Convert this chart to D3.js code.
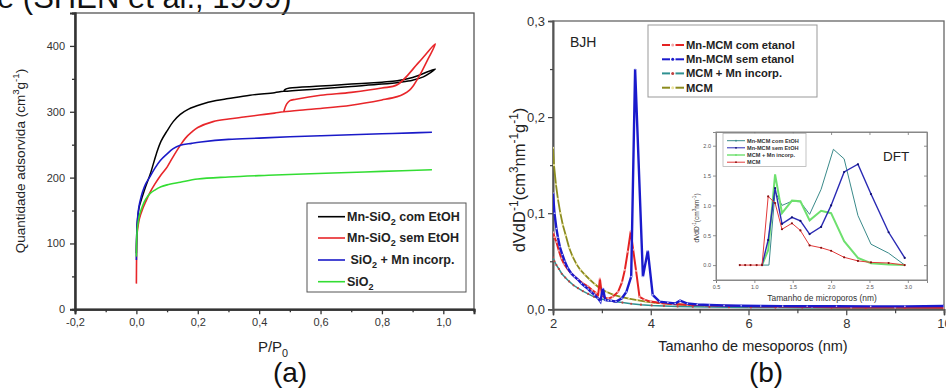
<!DOCTYPE html>
<html>
<head>
<meta charset="utf-8">
<script src="https://cdn.jsdelivr.net/npm/d3@7"></script>
<style>
  body { margin: 0; background: #fff; }
  svg { display: block; font-family: "Liberation Sans", Arial, sans-serif; }
</style>
</head>
<body>
<div id="chart"></div>
<script>
// ---------- (a) N2 isotherms ----------
const isoNames = ['Mn-SiO2 com EtOH', 'Mn-SiO2 sem EtOH', 'SiO2 + Mn incorp.', 'SiO2'];
const isoColors = ['#000000', '#e8262a', '#1a1ac8', '#33dd33'];

const comP = [0, 0.001, 0.003, 0.006, 0.01, 0.02, 0.03, 0.045, 0.065, 0.08, 0.1, 0.12, 0.143, 0.17, 0.21, 0.26, 0.3, 0.37, 0.45, 0.48, 0.6, 0.7, 0.8, 0.86, 0.9, 0.935, 0.974, 0.9, 0.85, 0.8, 0.7, 0.6, 0.5, 0.485, 0.48];
const comV = [85, 112, 132, 146, 157, 172, 186, 205, 236, 255, 271, 285, 296, 304, 311, 317, 320, 325, 329, 331, 335, 338.5, 342, 345, 348, 353, 365, 352, 347, 345, 342, 339, 336, 334, 331];

const semP = [0, 0.0005, 0.001, 0.003, 0.006, 0.01, 0.02, 0.03, 0.045, 0.06, 0.08, 0.1, 0.12, 0.143, 0.16, 0.18, 0.2, 0.25, 0.3, 0.35, 0.4, 0.45, 0.48, 0.55, 0.6, 0.7, 0.8, 0.85, 0.871, 0.89, 0.903, 0.925, 0.95, 0.974, 0.92, 0.85, 0.8, 0.7, 0.6, 0.52, 0.5, 0.49, 0.48];
const semV = [39, 75, 100, 118, 128, 138, 152, 163, 178, 190, 204, 216, 232, 249, 260, 269, 276, 285, 289, 292, 295, 298, 300, 303, 305, 310, 318, 323, 327, 333, 340, 357, 380, 403, 375, 341, 336, 329.5, 325, 319, 317, 312, 300];

const incP = [0, 0.001, 0.003, 0.006, 0.01, 0.013, 0.02, 0.03, 0.045, 0.06, 0.078, 0.1, 0.12, 0.143, 0.18, 0.21, 0.3, 0.4, 0.5, 0.6, 0.7, 0.8, 0.9, 0.963];
const incV = [75, 110, 132, 148, 160, 166, 178, 190, 202, 214, 226, 236, 244, 249, 252, 254, 258, 260, 262, 263.5, 265, 266.5, 268, 269];

const sioP = [0, 0.001, 0.003, 0.006, 0.01, 0.02, 0.03, 0.045, 0.06, 0.08, 0.1, 0.143, 0.2, 0.3, 0.43, 0.64, 0.8, 0.963];
const sioV = [80, 105, 122, 133, 143, 157, 167, 176, 181, 186, 189, 193, 198, 201, 203.5, 207, 209.5, 212];

const isoXTicks = [-0.2, 0, 0.2, 0.4, 0.6, 0.8, 1.0];
const isoYTicks = [0, 100, 200, 300, 400];

// ---------- (b) BJH mesopores ----------
const bjhNames = ['Mn-MCM com etanol', 'Mn-MCM sem etanol', 'MCM + Mn incorp.', 'MCM'];
const bjhColors = ['#e42222', '#1a1acc', '#2f9090', '#8c8c1e'];
const bjhMarks = ['#f4a8a8', '#c8c8f4', '#c04040', '#ece4a0'];

const comEtX = [2.0, 2.03, 2.07, 2.12, 2.17, 2.23, 2.31, 2.4, 2.51, 2.61, 2.71, 2.8, 2.88, 2.92, 2.96, 3.0, 3.06, 3.13, 3.22, 3.33, 3.41, 3.47, 3.53, 3.59, 3.64, 3.7, 3.77, 3.87, 4.0, 4.2, 4.45, 4.75, 5.1, 5.5, 6.0, 6.6, 7.3, 8.1, 9.0, 10.0];
const comEtY = [0.080, 0.075, 0.070, 0.061, 0.053, 0.047, 0.041, 0.036, 0.031, 0.027, 0.024, 0.020, 0.017, 0.013, 0.032, 0.015, 0.012, 0.011, 0.013, 0.018, 0.028, 0.041, 0.060, 0.081, 0.062, 0.040, 0.013, 0.010, 0.008, 0.0065, 0.0055, 0.0048, 0.0042, 0.0037, 0.0032, 0.0028, 0.0024, 0.002, 0.0018, 0.0015];

const semEtX = [2.0, 2.03, 2.07, 2.1, 2.14, 2.19, 2.24, 2.3, 2.37, 2.44, 2.51, 2.58, 2.65, 2.72, 2.78, 2.85, 2.92, 2.97, 3.02, 3.07, 3.13, 3.19, 3.29, 3.41, 3.5, 3.6, 3.68, 3.84, 3.94, 4.04, 4.18, 4.35, 4.5, 4.6, 4.75, 4.95, 5.2, 5.5, 5.85, 6.25, 6.7, 7.2, 7.8, 8.5, 9.2, 10.0];
const semEtY = [0.121, 0.100, 0.084, 0.075, 0.065, 0.057, 0.050, 0.043, 0.0375, 0.034, 0.031, 0.027, 0.024, 0.021, 0.018, 0.015, 0.0115, 0.008, 0.022, 0.0097, 0.009, 0.009, 0.008, 0.0115, 0.018, 0.034, 0.25, 0.034, 0.061, 0.015, 0.008, 0.007, 0.006, 0.009, 0.006, 0.005, 0.0045, 0.004, 0.0037, 0.0035, 0.0033, 0.0032, 0.0031, 0.003, 0.003, 0.0035];

const mcmIncX = [2.0, 2.03, 2.07, 2.12, 2.18, 2.25, 2.33, 2.42, 2.51, 2.61, 2.72, 2.84, 2.96, 3.1, 3.25, 3.42, 3.6, 3.8, 4.02, 4.27, 4.55, 4.86, 5.2, 5.6, 6.05, 6.55, 7.1, 7.7, 8.4, 9.2, 10.0];
const mcmIncY = [0.054, 0.050, 0.046, 0.042, 0.037, 0.033, 0.029, 0.025, 0.022, 0.019, 0.016, 0.013, 0.011, 0.0095, 0.0082, 0.007, 0.0058, 0.0048, 0.004, 0.0035, 0.003, 0.0027, 0.0024, 0.0022, 0.002, 0.0018, 0.0016, 0.0015, 0.0014, 0.0013, 0.0012];

const mcmX = [2.0, 2.02, 2.06, 2.1, 2.15, 2.2, 2.26, 2.33, 2.4, 2.48, 2.56, 2.65, 2.75, 2.86, 2.98, 3.1, 3.24, 3.39, 3.55, 3.72, 3.9, 4.1, 4.32, 4.56, 4.82, 5.1, 5.4, 5.75, 6.15, 6.6, 7.1, 7.7, 8.4, 9.2, 10.0];
const mcmY = [0.168, 0.150, 0.130, 0.115, 0.100, 0.088, 0.077, 0.064, 0.055, 0.047, 0.041, 0.036, 0.031, 0.026, 0.021, 0.018, 0.015, 0.013, 0.011, 0.0095, 0.008, 0.0068, 0.0058, 0.005, 0.0044, 0.0038, 0.0034, 0.003, 0.0026, 0.0023, 0.002, 0.0018, 0.0016, 0.0014, 0.0012];

const bjhXTicks = [2, 4, 6, 8, 10];
const bjhYTicks = [0, 0.1, 0.2, 0.3];

// ---------- inset DFT micropores ----------
const dftNames = ['Mn-MCM com EtOH', 'Mn-MCM sem EtOH', 'MCM + Mn incorp.', 'MCM'];
const dftColors = ['#3a8a8a', '#2a2ab4', '#6ee06e', '#e23a3a'];
const dftWidths = [1, 1.4, 2, 1];

const dftComX = [1.1, 1.19, 1.27, 1.36, 1.49, 1.6, 1.72, 1.87, 2.03, 2.17, 2.35, 2.52, 2.75, 2.96];
const dftComY = [0, 0, 1.23, 1.0, 1.07, 1.06, 0.85, 1.27, 1.94, 1.78, 0.83, 0.35, 0.2, 0.0];
const dftSemX = [1.1, 1.18, 1.27, 1.36, 1.49, 1.6, 1.72, 1.87, 2.0, 2.17, 2.35, 2.52, 2.75, 2.96];
const dftSemY = [0, 0.42, 1.29, 0.69, 0.80, 0.74, 0.52, 0.64, 1.0, 1.56, 1.69, 1.19, 0.55, 0.12];
const dftIncX = [1.1, 1.18, 1.27, 1.36, 1.49, 1.6, 1.72, 1.87, 2.0, 2.17, 2.35, 2.52, 2.75, 2.96];
const dftIncY = [0, 0.25, 1.52, 0.87, 1.08, 1.07, 0.75, 0.91, 0.87, 0.40, 0.12, 0.03, 0.01, 0.0];
const dftMcmX = [0.81, 0.88, 0.95, 1.03, 1.1, 1.18, 1.27, 1.36, 1.49, 1.6, 1.72, 1.87, 2.0, 2.17, 2.35, 2.52, 2.75, 2.96];
const dftMcmY = [0, 0, 0, 0, 0, 1.15, 1.04, 0.60, 0.70, 0.58, 0.33, 0.29, 0.24, 0.13, 0.07, 0.045, 0.035, 0.0];

const dftXTicks = [0.5, 1.0, 1.5, 2.0, 2.5, 3.0];
const dftYTicks = [0, 0.5, 1.0, 1.5, 2.0];

const zip = (xs, ys) => xs.map((x, i) => [x, ys[i]]);
const oneDec = d3.format('.1f');
const fmtComma = v => oneDec(v).replace('.', ',').replace('\u2212', '-');

let svg = d3.select('#chart').append('svg')
  .attr('width', 946)
  .attr('height', 390);

// text with sub / superscripts: parts = [[str, 0|1|-1], ...]
function rich(sel, parts, size) {
  let prev = 0;
  parts.forEach(p => {
    let off = p[1] === 1 ? -size * 0.42 : p[1] === -1 ? size * 0.3 : 0;
    let t = sel.append('tspan').text(p[0]).attr('dy', off - prev);
    if (p[1]) t.attr('font-size', size * 0.72);
    prev = off;
  });
}

// cut-off caption from the page above
svg.append('text')
  .attr('x', -3).attr('y', 8)
  .attr('font-size', 31).attr('fill', '#111')
  .text('e (SHEN et al., 1999)');

// ================= panel (a) =================
let xa = d3.scaleLinear().domain([-0.2, 1.1]).range([75, 474]);
let ya = d3.scaleLinear().domain([0, 450]).range([309.3, 13]);

let ga = svg.append('g');
ga.append('rect')
  .attr('x', 75).attr('y', 13).attr('width', 399).attr('height', 296.3)
  .attr('fill', 'none').attr('stroke', '#555').attr('stroke-width', 1.3);

ga.append('g').attr('transform', 'translate(0,309.3)')
  .call(d3.axisBottom(xa).tickValues(isoXTicks).tickFormat(fmtComma).tickSize(5).tickPadding(4));
ga.append('g').attr('transform', 'translate(0,309.3)')
  .call(d3.axisBottom(xa).tickValues(d3.range(-0.1, 1.1, 0.2)).tickFormat('').tickSize(3));
ga.append('g').attr('transform', 'translate(75,0)')
  .call(d3.axisLeft(ya).tickValues(isoYTicks).tickSize(5).tickPadding(5));
ga.append('g').attr('transform', 'translate(75,0)')
  .call(d3.axisLeft(ya).tickValues([50, 150, 250, 350, 450]).tickFormat('').tickSize(3));
ga.selectAll('.domain').attr('stroke', '#333').attr('stroke-width', 2);
ga.selectAll('.tick line').attr('stroke', '#333').attr('stroke-width', 1.3);
ga.selectAll('.tick text').attr('font-size', 11).attr('fill', '#333')
  .attr('font-family', '"Liberation Sans", Arial, sans-serif');

let isoLine = d3.line()
  .x(d => xa(d[0]))
  .y(d => ya(d[1]))
  .curve(d3.curveCatmullRom.alpha(0.5));
let isoData = [zip(comP, comV), zip(semP, semV), zip(incP, incV), zip(sioP, sioV)];
isoData.forEach((s, i) => {
  ga.append('path')
    .attr('d', isoLine(s))
    .attr('fill', 'none')
    .attr('stroke', isoColors[i])
    .attr('stroke-width', i === 0 ? 1.5 : 1.6);
});

// legend (a)
let la = ga.append('g');
la.append('rect')
  .attr('x', 307).attr('y', 203).attr('width', 159).attr('height', 89)
  .attr('fill', '#fff').attr('stroke', '#555').attr('stroke-width', 1);
let laRows = [216.7, 238, 260, 281.7];
let laText = [
  [['Mn-SiO', 0], ['2', -1], [' com EtOH', 0]],
  [['Mn-SiO', 0], ['2', -1], [' sem EtOH', 0]],
  [[' SiO', 0], ['2', -1], [' + Mn incorp.', 0]],
  [['SiO', 0], ['2', -1]]
];
laRows.forEach((y, i) => {
  la.append('line')
    .attr('x1', 318).attr('x2', 345).attr('y1', y).attr('y2', y)
    .attr('stroke', isoColors[i]).attr('stroke-width', 1.6);
  let t = la.append('text')
    .attr('x', 347).attr('y', y + 4.3)
    .attr('font-size', 12.5).attr('font-weight', 'bold').attr('fill', '#222')
    .attr('xml:space', 'preserve');
  rich(t, laText[i], 12.5);
});

// axis titles (a)
let tya = svg.append('text')
  .attr('transform', 'rotate(-90)')
  .attr('x', -161).attr('y', 24.5)
  .attr('text-anchor', 'middle').attr('font-size', 13.5).attr('fill', '#222');
rich(tya, [['Quantidade adsorvida (cm', 0], ['3', 1], ['g', 0], ['-1', 1], [')', 0]], 13.5);

let txa = svg.append('text')
  .attr('x', 273).attr('y', 352)
  .attr('text-anchor', 'middle').attr('font-size', 15).attr('fill', '#222');
rich(txa, [['P/P', 0], ['0', -1]], 15);

svg.append('text')
  .attr('x', 290).attr('y', 382)
  .attr('text-anchor', 'middle').attr('font-size', 28).attr('fill', '#111')
  .text('(a)');

// ================= panel (b) =================
let xb = d3.scaleLinear().domain([2, 10]).range([553, 944]);
let yb = d3.scaleLinear().domain([0, 0.3]).range([309.3, 21]);

let gb = svg.append('g');
gb.append('rect')
  .attr('x', 553).attr('y', 21).attr('width', 391).attr('height', 288.3)
  .attr('fill', 'none').attr('stroke', '#666').attr('stroke-width', 1.3);

gb.append('g').attr('transform', 'translate(0,309.3)')
  .call(d3.axisBottom(xb).tickValues(bjhXTicks).tickFormat(d3.format('d')).tickSize(6).tickPadding(3));
gb.append('g').attr('transform', 'translate(0,309.3)')
  .call(d3.axisBottom(xb).tickValues([3, 5, 7, 9]).tickFormat('').tickSize(4));
gb.append('g').attr('transform', 'translate(553,0)')
  .call(d3.axisLeft(yb).tickValues(bjhYTicks).tickFormat(fmtComma).tickSize(5).tickPadding(3));
gb.append('g').attr('transform', 'translate(553,0)')
  .call(d3.axisLeft(yb).tickValues([0.05, 0.15, 0.25]).tickFormat('').tickSize(3));
gb.selectAll('.domain').attr('stroke', '#555').attr('stroke-width', 1.6);
gb.selectAll('.tick line').attr('stroke', '#444').attr('stroke-width', 1.2);
gb.selectAll('.tick text').attr('font-size', 13).attr('fill', '#333')
  .attr('font-family', '"Liberation Sans", Arial, sans-serif');

gb.append('clipPath').attr('id', 'clipb')
  .append('rect').attr('x', 553).attr('y', 21).attr('width', 391).attr('height', 289);

let bjhData = [zip(comEtX, comEtY), zip(semEtX, semEtY), zip(mcmIncX, mcmIncY), zip(mcmX, mcmY)];
let bjhWidths = [2, 2.4, 1.5, 1.8];
let bjhLine = d3.line().x(d => xb(d[0])).y(d => yb(d[1]));
let plotB = gb.append('g').attr('clip-path', 'url(#clipb)');
[3, 2, 0, 1].forEach(i => {
  let s = plotB.append('g');
  s.append('path')
    .attr('d', bjhLine(bjhData[i]))
    .attr('fill', 'none')
    .attr('stroke', bjhColors[i])
    .attr('stroke-width', bjhWidths[i]);
  s.selectAll('circle')
    .data(bjhData[i])
    .enter()
      .append('circle')
        .attr('cx', d => xb(d[0]))
        .attr('cy', d => yb(d[1]))
        .attr('r', i === 1 ? 0.8 : 1.1)
        .attr('fill', bjhMarks[i]);
});

svg.append('text')
  .attr('x', 570).attr('y', 46.7)
  .attr('font-size', 14).attr('fill', '#222')
  .text('BJH');

// legend (b)
let lb = gb.append('g');
lb.append('rect')
  .attr('x', 648).attr('y', 25).attr('width', 169).attr('height', 72)
  .attr('fill', '#fff').attr('stroke', '#999').attr('stroke-width', 1);
[45, 59.3, 73.4, 87.7].forEach((y, i) => {
  lb.append('line')
    .attr('x1', 662).attr('x2', 670).attr('y1', y).attr('y2', y)
    .attr('stroke', bjhColors[i]).attr('stroke-width', 2);
  lb.append('line')
    .attr('x1', 675.5).attr('x2', 684).attr('y1', y).attr('y2', y)
    .attr('stroke', bjhColors[i]).attr('stroke-width', 2);
  lb.append('circle')
    .attr('cx', 672.7).attr('cy', y).attr('r', 1.5)
    .attr('fill', i === 1 ? bjhColors[1] : bjhMarks[i]);
  lb.append('text')
    .attr('x', 686).attr('y', y + 4)
    .attr('font-size', 11.2).attr('font-weight', 'bold').attr('fill', '#222')
    .text(bjhNames[i]);
});

// axis titles (b)
let tyb = svg.append('text')
  .attr('transform', 'rotate(-90)')
  .attr('x', -180).attr('y', 525)
  .attr('text-anchor', 'middle').attr('font-size', 16.5).attr('fill', '#222');
rich(tyb, [['dVdD', 0], ['-1', 1], ['(cm', 0], ['3', 1], ['nm', 0], ['-1', 1], ['g', 0], ['-1', 1], [')', 0]], 16.5);

svg.append('text')
  .attr('x', 753).attr('y', 351)
  .attr('text-anchor', 'middle').attr('font-size', 14.5).attr('fill', '#222')
  .text('Tamanho de mesoporos (nm)');

svg.append('text')
  .attr('x', 766).attr('y', 382)
  .attr('text-anchor', 'middle').attr('font-size', 28).attr('fill', '#111')
  .text('(b)');

// ================= inset DFT =================
let xi = d3.scaleLinear().domain([0.5, 3.25]).range([716, 927]);
let yi = d3.scaleLinear().domain([-0.25, 2.23]).range([280, 132]);

let gi = svg.append('g');
gi.append('rect')
  .attr('x', 716).attr('y', 132).attr('width', 211).attr('height', 148)
  .attr('fill', '#fff').attr('stroke', '#888').attr('stroke-width', 1);

gi.append('g').attr('transform', 'translate(0,280)')
  .call(d3.axisBottom(xi).tickValues(dftXTicks).tickFormat(d3.format('.1f')).tickSize(3).tickPadding(2));
gi.append('g').attr('transform', 'translate(0,132)')
  .call(d3.axisBottom(xi).tickValues(dftXTicks).tickFormat('').tickSize(3));
gi.append('g').attr('transform', 'translate(716,0)')
  .call(d3.axisLeft(yi).tickValues(dftYTicks).tickFormat(d3.format('.1f')).tickSize(3).tickPadding(2));
gi.append('g').attr('transform', 'translate(927,0)')
  .call(d3.axisLeft(yi).tickValues(dftYTicks).tickFormat('').tickSize(3));
gi.selectAll('.domain').attr('stroke', '#888').attr('stroke-width', 1);
gi.selectAll('.tick line').attr('stroke', '#777').attr('stroke-width', 0.8);
gi.selectAll('.tick text').attr('font-size', 5.5).attr('fill', '#555')
  .attr('font-family', '"Liberation Sans", Arial, sans-serif');

let dftData = [zip(dftComX, dftComY), zip(dftSemX, dftSemY), zip(dftIncX, dftIncY), zip(dftMcmX, dftMcmY)];
let dftLine = d3.line().x(d => xi(d[0])).y(d => yi(d[1]));
[0, 2, 1, 3].forEach(i => {
  let s = gi.append('g');
  s.append('path')
    .attr('d', dftLine(dftData[i]))
    .attr('fill', 'none')
    .attr('stroke', dftColors[i])
    .attr('stroke-width', dftWidths[i]);
  if (i === 1 || i === 3) {
    s.selectAll('circle')
      .data(dftData[i])
      .enter()
        .append('circle')
          .attr('cx', d => xi(d[0]))
          .attr('cy', d => yi(d[1]))
          .attr('r', 1.1)
          .attr('fill', i === 1 ? '#101070' : '#8a1010');
  }
});

gi.append('text')
  .attr('x', 883).attr('y', 160.7)
  .attr('font-size', 13.5).attr('fill', '#222')
  .text('DFT');

// inset legend
let li = gi.append('g');
li.append('rect')
  .attr('x', 723).attr('y', 133.5).attr('width', 83).attr('height', 33)
  .attr('fill', '#fff').attr('stroke', '#aaa').attr('stroke-width', 0.7);
[140.7, 147.8, 155, 162.2].forEach((y, i) => {
  li.append('line')
    .attr('x1', 727).attr('x2', 745).attr('y1', y).attr('y2', y)
    .attr('stroke', dftColors[i]).attr('stroke-width', i === 2 ? 1.4 : 1);
  li.append('circle')
    .attr('cx', 736).attr('cy', y).attr('r', 0.9)
    .attr('fill', i === 1 ? '#101070' : i === 3 ? '#8a1010' : dftColors[i]);
  li.append('text')
    .attr('x', 747).attr('y', y + 2)
    .attr('font-size', 5.6).attr('font-weight', 'bold').attr('fill', '#333')
    .text(dftNames[i]);
});

let tyi = svg.append('text')
  .attr('transform', 'rotate(-90)')
  .attr('x', -218).attr('y', 699)
  .attr('text-anchor', 'middle').attr('font-size', 6.5).attr('fill', '#333');
rich(tyi, [['dVdD', 0], ['-1', 1], ['(cm', 0], ['3', 1], ['nm', 0], ['-1', 1], [')', 0]], 6.5);

svg.append('text')
  .attr('x', 822).attr('y', 301)
  .attr('text-anchor', 'middle').attr('font-size', 8.4).attr('fill', '#333')
  .text('Tamanho de microporos (nm)');
</script>
</body>
</html>
